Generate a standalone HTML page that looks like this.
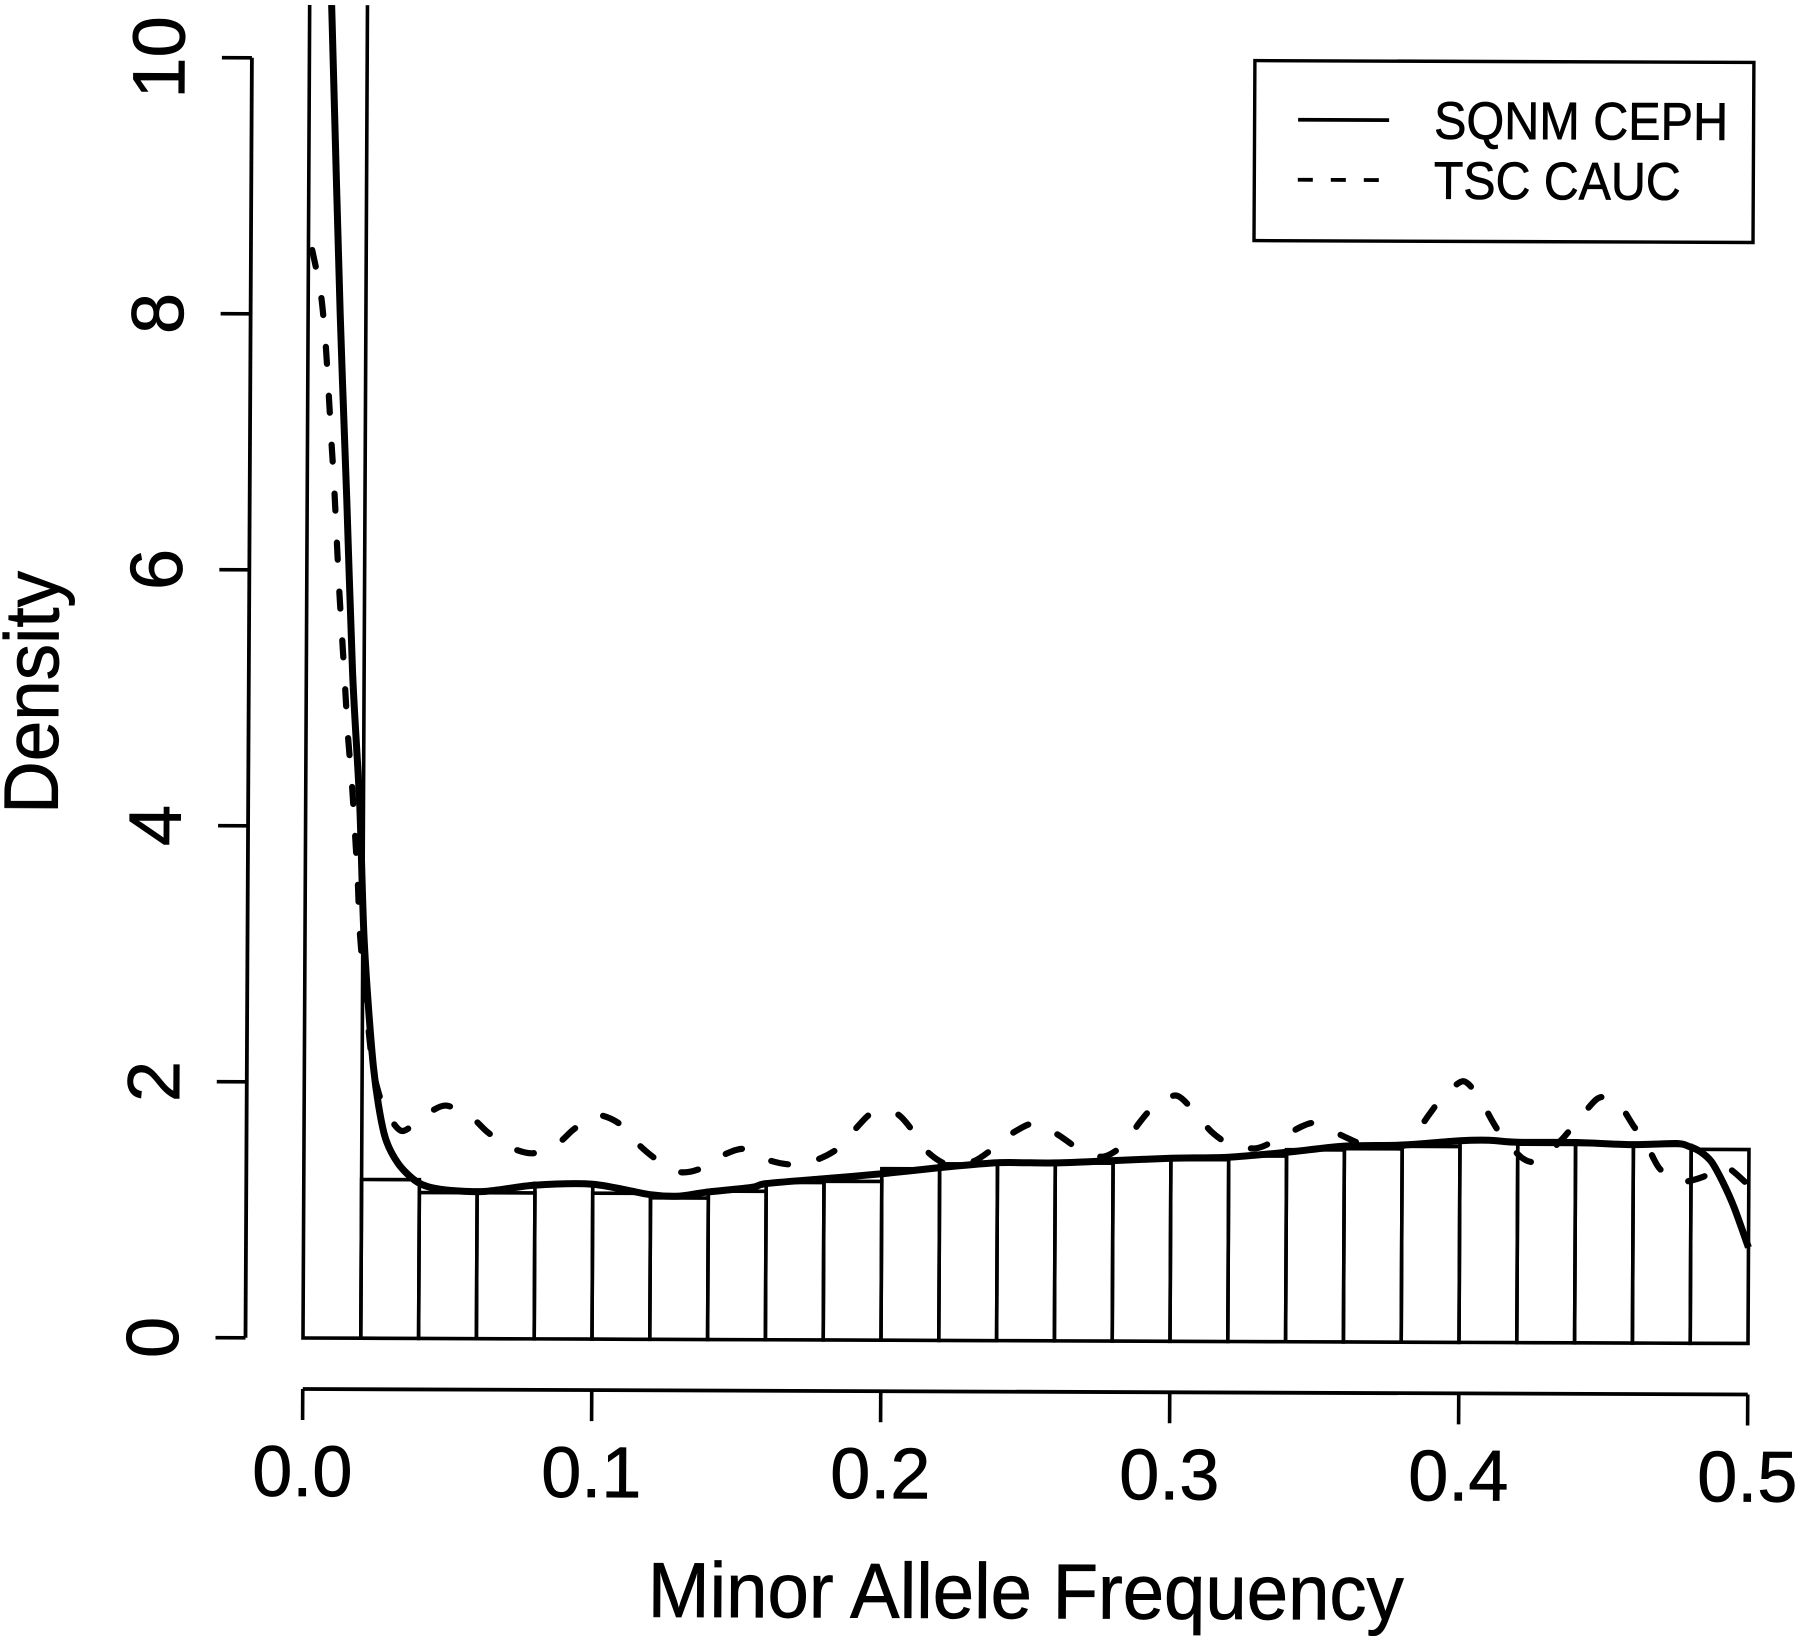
<!DOCTYPE html>
<html lang="en">
<head>
<meta charset="utf-8">
<title>Minor Allele Frequency Density</title>
<style>
html,body{margin:0;padding:0;background:#fff;}
svg{display:block;}
text{font-family:"Liberation Sans",Arial,sans-serif;fill:#000;stroke:#000;stroke-width:0.7px;}
</style>
</head>
<body>
<svg id="chart" xmlns="http://www.w3.org/2000/svg" width="1800" height="1640" viewBox="0 0 1800 1640">
<rect x="0" y="0" width="1800" height="1640" fill="#fff"/>
<defs><clipPath id="plot-clip"><rect x="200" y="5" width="1600" height="1400"/></clipPath></defs>
<g id="frame" transform="matrix(1 0.0038 -0.005 1 6.69 -1.15)">
  <g id="bars" clip-path="url(#plot-clip)"></g>
  <g id="curves" clip-path="url(#plot-clip)"></g>
  <g id="y-axis"></g>
  <g id="x-axis"></g>
  <text x="649" y="1615.5" font-size="78" textLength="756" lengthAdjust="spacingAndGlyphs">Minor Allele Frequency</text>
  <text transform="translate(55 693.5) rotate(-90)" text-anchor="middle" font-size="77" textLength="243" lengthAdjust="spacingAndGlyphs">Density</text>
  <g>
    <rect x="1248.5" y="57" width="499" height="180" fill="#fff" stroke="#000" stroke-width="3.4"/>
    <line x1="1292" y1="116" x2="1383" y2="116" stroke="#000" stroke-width="3.8"/>
    <line x1="1292" y1="176" x2="1373" y2="176" stroke="#000" stroke-width="3.8" stroke-dasharray="15 18"/>
    <text x="1428" y="134.5" font-size="53" textLength="294" lengthAdjust="spacingAndGlyphs">SQNM CEPH</text>
    <text x="1428" y="194.5" font-size="53" textLength="247" lengthAdjust="spacingAndGlyphs">TSC CAUC</text>
  </g>
</g>
</svg>
<script>
const binWidth = 0.02;
const binHeights = [18, 1.24, 1.14, 1.14, 1.215, 1.14, 1.105, 1.16, 1.23, 1.24, 1.34, 1.38, 1.38, 1.39, 1.42, 1.42, 1.45, 1.5, 1.51, 1.53, 1.57, 1.55, 1.55, 1.545, 1.515];

const solidX = [0.0065, 0.0082, 0.0111, 0.0137, 0.016, 0.0187, 0.0205, 0.0239, 0.0277, 0.0325, 0.0394, 0.0474, 0.0623, 0.0796, 0.1, 0.12, 0.13, 0.139, 0.155, 0.16, 0.18, 0.2, 0.22, 0.24, 0.26, 0.28, 0.3, 0.32, 0.34, 0.36, 0.38, 0.4, 0.41, 0.42, 0.44, 0.46, 0.475, 0.479, 0.483, 0.487, 0.491, 0.495, 0.5];
const solidY = [11.2, 10, 8, 6.55, 5.2, 4.17, 3.1, 2.12, 1.6, 1.37, 1.22, 1.165, 1.15, 1.2, 1.21, 1.13, 1.12, 1.15, 1.19, 1.22, 1.26, 1.3, 1.35, 1.39, 1.39, 1.41, 1.43, 1.44, 1.48, 1.53, 1.54, 1.575, 1.58, 1.565, 1.565, 1.55, 1.56, 1.54, 1.5, 1.42, 1.26, 1.06, 0.75];

const dashedX = [0.0013, 0.0043, 0.006, 0.0072, 0.0083, 0.0094, 0.0111, 0.0123, 0.0134, 0.0145, 0.016, 0.0171, 0.0182, 0.019, 0.0213, 0.0238, 0.027, 0.0294, 0.0342, 0.0422, 0.0491, 0.0578, 0.0637, 0.0709, 0.0792, 0.0879, 0.0934, 0.101, 0.1087, 0.1149, 0.1211, 0.1294, 0.1367, 0.145, 0.1522, 0.1613, 0.1692, 0.1777, 0.185, 0.1908, 0.1969, 0.205, 0.2105, 0.2159, 0.2232, 0.2317, 0.2384, 0.2457, 0.253, 0.2609, 0.2682, 0.2766, 0.2839, 0.2888, 0.2943, 0.3018, 0.3082, 0.3139, 0.3204, 0.3294, 0.3367, 0.345, 0.349, 0.353, 0.3613, 0.368, 0.3796, 0.3837, 0.3893, 0.3941, 0.401, 0.4063, 0.4114, 0.4149, 0.4211, 0.4253, 0.4291, 0.4357, 0.4408, 0.447, 0.4505, 0.4547, 0.4599, 0.4644, 0.4689, 0.4754, 0.4841, 0.491, 0.4983, 0.5];
const dashedY = [8.5, 8.17, 7.8, 7.4, 7.0, 6.62, 5.9, 5.48, 5.1, 4.71, 4.32, 3.95, 3.55, 3.16, 2.6, 2.1, 1.83, 1.73, 1.62, 1.75, 1.82, 1.73, 1.61, 1.5, 1.45, 1.53, 1.64, 1.75, 1.69, 1.54, 1.42, 1.31, 1.33, 1.44, 1.49, 1.4, 1.37, 1.41, 1.5, 1.65, 1.78, 1.77, 1.64, 1.47, 1.37, 1.4, 1.5, 1.63, 1.7, 1.61, 1.5, 1.44, 1.54, 1.7, 1.84, 1.92, 1.79, 1.64, 1.54, 1.51, 1.58, 1.68, 1.71, 1.68, 1.59, 1.535, 1.53, 1.6, 1.78, 1.92, 2.04, 1.92, 1.72, 1.6, 1.45, 1.41, 1.45, 1.6, 1.74, 1.9, 1.92, 1.88, 1.7, 1.56, 1.37, 1.26, 1.3, 1.39, 1.27, 1.21];

const xTicks = [0, 0.1, 0.2, 0.3, 0.4, 0.5];
const xTickLabels = ["0.0", "0.1", "0.2", "0.3", "0.4", "0.5"];
const yTicks = [0, 2, 4, 6, 8, 10];
const yTickLabels = ["0", "2", "4", "6", "8", "10"];

const SVG_NS = "http://www.w3.org/2000/svg";
const sx = v => 303 + v * 2890;
const sy = v => 1338 - v * 128;

function make(tag, attrs, parent) {
  const el = document.createElementNS(SVG_NS, tag);
  for (const k in attrs) el.setAttribute(k, attrs[k]);
  parent.appendChild(el);
  return el;
}

function smoothPath(xs, ys) {
  const p = xs.map((x, i) => [sx(x), sy(ys[i])]);
  let d = "M" + p[0][0].toFixed(2) + " " + p[0][1].toFixed(2);
  const t = 0.14;
  for (let i = 0; i < p.length - 1; i++) {
    const p0 = p[Math.max(i - 1, 0)], p1 = p[i], p2 = p[i + 1], p3 = p[Math.min(i + 2, p.length - 1)];
    const c1x = p1[0] + (p2[0] - p0[0]) * t, c1y = p1[1] + (p2[1] - p0[1]) * t;
    const c2x = p2[0] - (p3[0] - p1[0]) * t, c2y = p2[1] - (p3[1] - p1[1]) * t;
    d += "C" + c1x.toFixed(2) + " " + c1y.toFixed(2) + " " + c2x.toFixed(2) + " " + c2y.toFixed(2) + " " + p2[0].toFixed(2) + " " + p2[1].toFixed(2);
  }
  return d;
}

const barsG = document.getElementById("bars");
binHeights.forEach((h, i) => {
  const bar = make("rect", {
    x: sx(i * binWidth),
    y: sy(h),
    width: sx((i + 1) * binWidth) - sx(i * binWidth),
    height: sy(0) - sy(h),
    fill: "none",
    stroke: "#000",
    "stroke-width": 3.6
  }, barsG);
  
  
});

const curvesG = document.getElementById("curves");
const dashedPath = make("path", {
  d: smoothPath(dashedX, dashedY),
  fill: "none",
  stroke: "#000",
  "stroke-width": 6.2,
  "stroke-linecap": "round",
  "stroke-dasharray": "17 32"
}, curvesG);



const solidPath = make("path", {
  d: smoothPath(solidX, solidY),
  fill: "none",
  stroke: "#000",
  "stroke-width": 7
}, curvesG);



const yAxisG = document.getElementById("y-axis");
const yAxisX = 245.5;
const yLine = make("line", { x1: yAxisX, y1: sy(yTicks[0]), x2: yAxisX, y2: sy(yTicks[yTicks.length - 1]), stroke: "#000", "stroke-width": 3.8 }, yAxisG);


yTicks.forEach((v, i) => {
  const tick = make("line", { x1: yAxisX - 30, y1: sy(v), x2: yAxisX, y2: sy(v), stroke: "#000", "stroke-width": 3.6 }, yAxisG);
  
  
  const label = make("text", { transform: "translate(178 " + sy(v) + ") rotate(-90)", "text-anchor": "middle", "font-size": 74 }, yAxisG);
  label.textContent = yTickLabels[i];
  
  
});

const xAxisG = document.getElementById("x-axis");
const xAxisY = 1389;
const xLine = make("line", { x1: sx(xTicks[0]), y1: xAxisY, x2: sx(xTicks[xTicks.length - 1]), y2: xAxisY, stroke: "#000", "stroke-width": 3.8 }, xAxisG);


xTicks.forEach((v, i) => {
  const tick = make("line", { x1: sx(v), y1: xAxisY, x2: sx(v), y2: xAxisY + 31, stroke: "#000", "stroke-width": 3.6 }, xAxisG);
  
  
  const label = make("text", { x: sx(v), y: 1496, "text-anchor": "middle", "font-size": 72 }, xAxisG);
  label.textContent = xTickLabels[i];
  
  
});
</script>
</body>
</html>
